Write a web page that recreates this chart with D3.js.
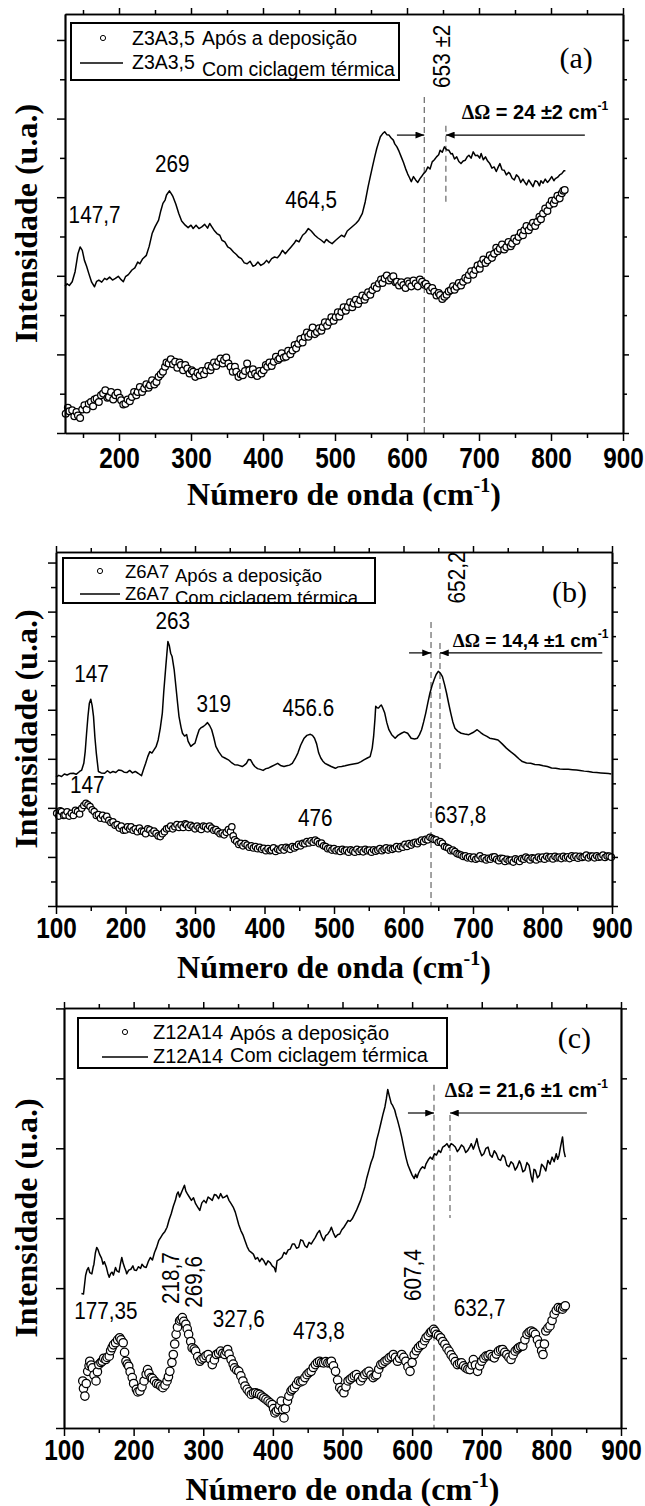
<!DOCTYPE html>
<html>
<head>
<meta charset="utf-8">
<script src="https://cdn.jsdelivr.net/npm/d3@7"></script>
<style>
  body { margin: 0; background: #fff; }
  svg { display: block; }
</style>
</head>
<body>
<script>
// ---- data (wavenumber cm-1, intensity a.u. as % of panel height) ----
const sampleNames = ['Z3A3,5', 'Z6A7', 'Z12A14']
const seriesNames = ['Após a deposição', 'Com ciclagem térmica']
const panelTags = ['(a)', '(b)', '(c)']
const shiftTexts = ['24 ±2', '14,4 ±1', '21,6 ±1']

const aCyc = [[125,35.0],[128,35.6],[131,35.2],[135,36.1],[139,38.5],[143,42.8],[146,44.4],[149,43.6],[152,41.2],[155,39.8],[158,38.1],[162,36.0],[166,34.9],[169,36.2],[172,36.5],[176,36.0],[180,36.9],[183,36.6],[187,37.2],[191,36.5],[195,36.9],[199,37.4],[203,36.6],[206,36.1],[209,37.3],[213,37.8],[218,38.9],[222,39.4],[226,40.8],[229,40.4],[233,41.6],[238,42.4],[242,44.6],[246,47.6],[250,49.2],[255,50.8],[258,53.0],[261,54.8],[264,55.6],[266,56.8],[270,57.8],[273,57.0],[275,56.4],[279,54.6],[283,52.4],[287,50.6],[292,49.6],[296,49.0],[300,49.6],[303,48.8],[307,49.6],[311,48.8],[315,49.2],[319,49.8],[323,48.9],[326,50.0],[329,49.2],[332,48.4],[336,47.6],[340,47.2],[343,46.0],[347,45.6],[351,44.4],[355,44.0],[359,43.2],[363,42.6],[366,42.0],[370,41.6],[374,40.6],[378,40.4],[382,41.0],[386,39.8],[389,40.0],[393,40.8],[397,40.0],[401,40.4],[405,41.2],[408,40.6],[412,41.6],[416,42.0],[420,41.8],[423,42.4],[427,43.6],[431,42.8],[435,43.6],[439,44.4],[443,45.2],[446,46.0],[450,45.6],[455,47.2],[459,47.8],[463,48.8],[467,48.2],[472,47.2],[476,46.6],[481,46.0],[485,45.4],[488,46.2],[492,45.6],[496,45.2],[501,46.0],[505,46.6],[509,47.2],[513,46.8],[517,48.2],[521,48.8],[525,49.4],[529,50.0],[533,50.8],[538,52.4],[542,55.2],[546,58.8],[549,61.2],[552,63.5],[555,65.8],[558,67.9],[561,69.6],[563,70.7],[566,71.4],[569,71.9],[572,71.2],[575,71.1],[578,70.4],[581,69.9],[583,69.0],[586,68.3],[589,67.2],[592,65.9],[595,64.6],[598,63.1],[601,61.8],[603,61.1],[606,60.0],[609,61.2],[612,60.4],[615,59.8],[618,60.7],[621,61.4],[623,61.9],[626,62.4],[629,63.5],[632,63.0],[635,64.7],[638,65.2],[641,65.9],[644,66.4],[646,67.5],[649,67.0],[652,68.3],[655,67.6],[658,67.5],[661,66.6],[663,66.7],[666,65.4],[669,65.9],[672,64.8],[675,64.3],[678,64.9],[681,65.1],[684,66.0],[686,66.3],[689,65.6],[692,67.1],[695,66.2],[698,66.3],[701,65.6],[703,66.7],[706,65.2],[709,65.9],[712,64.9],[715,64.3],[718,63.2],[721,63.5],[724,62.4],[726,63.2],[729,64.3],[732,62.8],[735,62.7],[738,61.6],[741,62.2],[743,61.9],[746,60.8],[749,60.4],[752,61.6],[755,61.1],[758,59.8],[761,60.6],[763,60.0],[766,59.2],[769,60.4],[772,59.6],[775,58.8],[778,60.2],[781,60.0],[784,59.0],[786,60.2],[789,59.6],[792,60.6],[795,59.8],[798,60.4],[801,61.2],[804,60.2],[806,60.7],[809,61.0],[812,61.6],[815,61.9],[818,62.6],[820,62.6]]

const aDep = [[126,4.6],[129,6.0],[131,5.2],[135,5.4],[138,4.0],[141,5.0],[143,4.2],[146,3.6],[149,5.6],[152,6.6],[155,5.6],[158,7.0],[161,7.4],[164,6.4],[166,8.0],[169,8.2],[172,7.4],[175,9.0],[178,9.4],[181,10.2],[184,8.4],[186,8.6],[189,9.8],[192,8.0],[195,9.0],[198,9.6],[201,8.4],[203,7.8],[206,6.8],[209,7.0],[212,8.0],[215,7.6],[218,8.6],[221,9.8],[224,9.0],[226,9.8],[229,11.0],[232,9.8],[235,10.6],[238,11.6],[241,10.8],[243,11.4],[246,12.6],[249,11.6],[252,12.2],[255,13.4],[258,14.0],[261,14.6],[264,15.8],[266,16.8],[269,16.6],[272,17.6],[275,16.4],[278,17.0],[281,15.6],[284,16.8],[286,16.2],[289,15.0],[292,16.2],[295,15.4],[298,14.2],[301,15.0],[303,14.6],[306,13.4],[309,14.4],[312,13.8],[315,14.8],[318,14.0],[321,15.0],[324,16.0],[327,15.0],[329,15.8],[332,16.8],[335,16.0],[338,17.0],[341,17.8],[344,16.6],[346,17.4],[349,18.0],[352,16.6],[355,15.8],[358,14.6],[361,15.8],[363,14.6],[366,13.4],[369,14.0],[372,13.8],[375,14.8],[378,16.6],[381,15.0],[384,14.0],[386,15.2],[389,14.2],[392,13.6],[395,14.8],[398,14.2],[401,15.0],[404,16.2],[406,15.8],[409,16.8],[412,16.0],[415,17.0],[418,18.2],[421,17.4],[423,17.8],[426,19.0],[429,18.0],[432,18.2],[435,19.6],[438,18.8],[441,19.7],[444,21.0],[446,20.2],[449,21.3],[452,22.4],[455,21.6],[458,22.9],[461,24.0],[463,23.0],[466,23.7],[469,25.2],[472,23.6],[475,24.1],[478,25.0],[481,24.4],[483,25.3],[486,26.4],[489,25.6],[492,26.5],[495,27.6],[498,26.8],[501,27.7],[504,28.8],[506,27.8],[509,28.9],[512,30.0],[515,29.2],[518,30.1],[521,31.2],[524,30.0],[526,30.9],[529,31.8],[532,30.8],[535,31.7],[538,32.8],[541,31.8],[543,32.5],[546,33.6],[549,33.0],[552,34.1],[555,35.0],[558,34.6],[561,35.7],[564,36.6],[566,35.8],[569,36.9],[572,37.6],[575,36.4],[578,36.9],[581,37.4],[584,36.0],[586,36.1],[589,35.2],[592,36.0],[595,35.3],[598,34.6],[601,36.2],[603,35.7],[606,35.0],[609,36.4],[612,35.7],[615,35.0],[618,36.6],[621,36.1],[624,35.4],[626,35.6],[629,34.9],[632,34.0],[635,34.6],[638,33.7],[641,32.8],[644,33.4],[646,32.9],[649,32.0],[652,32.5],[655,33.0],[658,33.8],[661,34.1],[664,35.0],[666,34.2],[669,34.9],[672,35.8],[675,35.2],[678,36.1],[681,37.0],[684,36.6],[686,37.7],[689,38.6],[692,37.8],[695,38.9],[698,40.0],[701,39.2],[703,40.4],[706,41.4],[709,40.6],[712,41.2],[715,42.4],[718,41.8],[721,42.8],[724,44.2],[726,43.4],[729,44.0],[732,45.0],[735,43.8],[738,44.4],[741,45.6],[744,44.6],[746,45.2],[749,46.4],[752,45.8],[755,46.8],[758,47.8],[761,47.2],[763,48.4],[766,49.4],[769,48.4],[772,49.2],[775,50.2],[778,49.4],[781,50.4],[784,51.6],[786,51.0],[789,52.4],[792,53.6],[795,53.0],[798,54.4],[801,55.4],[804,54.8],[806,55.6],[809,56.6],[812,56.0],[815,57.2],[817,57.8],[819,58.0]]

const bCyc = [[100,36.4],[104,36.9],[108,36.6],[112,37.3],[116,37.0],[120,37.4],[125,37.5],[129,37.2],[134,38.0],[137,38.4],[140,40.3],[142,43.6],[144,48.8],[146,53.6],[148,57.3],[150,58.4],[152,56.6],[154,53.5],[156,47.6],[158,43.2],[161,38.0],[165,37.6],[170,37.5],[174,38.2],[178,37.6],[182,38.0],[186,37.7],[190,38.4],[194,38.3],[198,37.8],[202,37.7],[206,38.3],[210,37.6],[214,38.0],[218,37.5],[223,36.8],[226,38.6],[229,40.3],[232,42.2],[235,43.6],[238,43.2],[241,44.1],[244,45.0],[247,46.9],[250,50.2],[253,54.5],[255,60.4],[258,67.7],[261,74.7],[263,73.6],[265,71.4],[267,70.5],[270,66.8],[272,63.0],[275,57.2],[277,53.5],[280,50.4],[282,48.8],[285,48.0],[288,48.4],[290,46.6],[294,45.1],[297,45.6],[300,46.0],[303,48.0],[306,49.8],[309,50.4],[312,50.7],[315,51.2],[318,51.8],[321,51.0],[324,49.8],[327,47.6],[330,45.1],[334,43.6],[339,42.2],[343,41.8],[348,41.3],[352,40.6],[357,39.9],[362,39.8],[368,39.4],[371,39.8],[374,40.3],[377,41.4],[380,41.3],[383,40.2],[386,39.4],[390,38.8],[394,38.6],[398,38.3],[402,38.8],[406,39.0],[410,39.4],[414,39.8],[419,40.3],[423,39.7],[428,39.4],[432,39.6],[436,39.8],[440,40.3],[444,41.6],[448,43.2],[452,45.4],[457,47.4],[461,48.2],[466,48.5],[469,48.2],[472,47.4],[475,45.8],[478,43.2],[481,41.8],[484,40.9],[487,40.3],[491,39.9],[496,39.4],[502,38.9],[506,39.3],[511,39.4],[516,39.6],[522,39.9],[528,40.1],[534,40.3],[539,40.8],[543,41.3],[548,41.8],[552,42.2],[555,44.6],[557,47.9],[559,53.0],[560,56.4],[562,56.0],[564,55.9],[566,56.4],[568,56.8],[570,56.0],[573,54.5],[576,51.8],[579,49.8],[583,48.4],[588,47.4],[592,48.2],[597,48.8],[601,49.2],[606,48.8],[611,47.4],[616,47.2],[620,47.4],[623,48.4],[626,49.8],[629,52.0],[632,54.5],[635,57.4],[638,60.1],[641,62.2],[644,63.9],[647,65.4],[650,66.3],[653,65.8],[656,64.8],[659,62.6],[662,60.1],[665,57.2],[668,54.5],[671,52.0],[674,50.2],[678,49.4],[683,48.8],[688,48.6],[694,48.4],[700,49.0],[706,49.8],[711,49.0],[715,48.4],[720,47.9],[724,47.4],[730,47.2],[736,46.9],[742,45.8],[748,44.6],[754,43.6],[760,42.7],[766,41.6],[771,40.8],[777,40.4],[783,40.3],[789,40.0],[795,39.9],[801,39.6],[807,39.4],[813,39.0],[819,38.9],[825,38.7],[831,38.6],[837,38.6],[843,38.5],[849,38.4],[854,38.3],[860,38.1],[866,38.0],[872,37.8],[878,37.7],[884,37.6],[890,37.5],[895,37.4],[899,37.3]]

const bDep = [[101,26.2],[104,25.4],[106,26.9],[108,26.7],[111,25.6],[113,25.7],[116,26.6],[119,25.4],[122,26.2],[125,25.6],[128,27.0],[131,26.7],[134,26.0],[137,27.6],[140,28.4],[143,29.0],[146,28.6],[149,28.1],[152,27.2],[155,26.7],[158,25.6],[161,25.8],[164,24.8],[167,25.6],[170,24.6],[173,25.3],[176,24.2],[179,23.6],[182,23.8],[185,22.8],[188,23.0],[191,22.0],[194,22.6],[197,21.4],[200,21.5],[203,22.4],[206,21.8],[208,22.4],[211,21.4],[214,21.8],[217,21.0],[220,22.0],[223,21.2],[226,21.0],[229,20.4],[232,21.8],[235,21.5],[238,20.6],[241,21.2],[244,20.5],[247,19.8],[250,19.6],[253,20.4],[256,21.0],[259,21.8],[262,22.0],[265,22.6],[268,21.8],[271,22.4],[274,23.0],[277,22.2],[280,22.9],[283,22.2],[286,23.2],[288,22.9],[291,22.2],[294,22.8],[297,22.4],[300,21.8],[303,22.6],[306,22.0],[309,21.6],[312,22.6],[315,22.4],[318,21.8],[321,22.6],[324,22.0],[327,21.4],[330,21.6],[333,21.0],[336,20.4],[339,20.6],[342,20.1],[345,20.8],[348,21.6],[351,21.0],[353,22.4],[355,19.8],[357,18.7],[360,18.2],[363,17.4],[366,17.7],[369,17.0],[372,17.6],[375,17.2],[378,16.6],[381,17.0],[384,16.4],[387,16.8],[390,16.2],[393,16.6],[396,16.0],[399,16.3],[402,15.6],[405,16.2],[408,15.6],[410,15.8],[413,16.4],[416,15.4],[419,16.0],[422,15.8],[425,16.4],[428,15.8],[431,16.6],[434,16.3],[437,16.0],[440,16.8],[443,16.4],[446,16.8],[449,17.4],[452,17.0],[455,17.7],[458,17.6],[461,18.2],[464,17.8],[467,18.4],[470,18.0],[473,18.6],[476,18.2],[479,17.6],[482,17.8],[485,17.0],[488,16.8],[491,16.2],[494,16.3],[497,15.8],[500,16.2],[503,15.6],[506,15.9],[509,15.4],[512,16.0],[515,15.6],[518,15.8],[521,15.2],[524,15.9],[527,15.6],[530,15.2],[533,16.0],[536,15.4],[539,15.8],[542,15.3],[545,16.0],[548,15.6],[551,15.8],[554,15.2],[557,15.9],[560,15.5],[563,15.8],[566,16.2],[569,15.6],[572,16.0],[575,16.4],[578,15.8],[581,16.3],[584,16.0],[587,16.3],[590,16.8],[593,16.2],[596,16.8],[599,16.6],[602,17.4],[605,16.8],[608,17.6],[611,17.2],[614,17.8],[617,18.0],[620,17.6],[623,18.2],[626,18.6],[629,18.2],[632,18.8],[635,18.7],[638,19.4],[641,19.1],[644,18.8],[647,18.7],[650,18.0],[653,18.2],[656,17.7],[659,16.8],[662,16.6],[665,16.3],[668,15.6],[671,15.8],[674,15.4],[677,14.8],[680,14.6],[683,14.4],[686,14.0],[689,14.2],[692,13.6],[695,13.9],[698,13.4],[701,13.8],[704,13.2],[707,13.5],[710,14.2],[713,13.4],[716,13.6],[719,13.0],[722,13.5],[725,13.2],[728,13.8],[731,13.9],[734,13.2],[737,12.8],[740,13.5],[743,13.4],[746,12.6],[749,13.2],[752,12.8],[755,13.0],[758,12.4],[761,13.3],[764,13.0],[767,12.6],[770,13.4],[773,13.2],[776,13.8],[779,13.5],[782,13.0],[785,13.6],[788,13.5],[791,13.0],[794,13.8],[797,13.4],[800,13.8],[803,13.2],[806,14.0],[809,13.6],[812,13.9],[815,13.3],[818,14.0],[821,13.6],[824,13.8],[827,13.4],[830,14.0],[833,13.6],[836,13.9],[839,13.4],[842,14.2],[845,13.8],[848,14.1],[851,13.5],[854,14.0],[857,13.7],[860,13.9],[863,14.4],[866,13.6],[869,14.1],[872,14.1],[875,13.6],[878,14.2],[881,13.8],[884,13.9],[887,14.4],[890,13.7],[893,14.1],[896,14.1],[899,13.8]]

const cCyc = [[125,32.0],[128,31.9],[131,36.3],[133,37.6],[135,38.2],[137,37.0],[140,36.7],[142,38.4],[143,39.0],[145,41.6],[147,43.0],[149,42.4],[151,41.4],[154,40.4],[156,39.0],[158,39.6],[161,38.2],[163,36.8],[165,35.9],[167,36.8],[169,37.1],[171,36.4],[174,38.2],[176,37.4],[179,37.1],[181,39.0],[183,40.6],[185,39.2],[187,38.2],[189,37.4],[190,36.7],[193,37.6],[196,37.8],[199,38.6],[201,37.6],[204,37.5],[207,38.4],[210,38.0],[212,39.0],[215,38.4],[218,38.2],[221,39.6],[224,40.6],[227,40.0],[230,41.8],[233,43.0],[236,44.6],[239,45.4],[242,46.2],[245,46.8],[248,47.8],[251,49.6],[254,51.0],[257,52.8],[260,54.2],[262,55.6],[264,56.2],[266,55.0],[268,55.8],[270,56.6],[273,57.8],[275,56.4],[277,55.8],[280,55.0],[283,54.2],[286,54.8],[289,53.4],[292,52.6],[295,51.8],[298,53.6],[301,54.2],[304,53.6],[307,55.0],[310,54.6],[313,54.2],[316,55.6],[319,55.4],[322,54.6],[325,55.8],[328,54.8],[331,55.0],[334,55.4],[337,54.2],[340,53.4],[343,52.6],[346,51.4],[348,50.2],[351,48.4],[354,47.0],[357,46.0],[360,44.6],[363,43.2],[366,42.2],[369,41.8],[372,41.4],[375,40.2],[378,40.6],[381,39.6],[384,40.4],[387,39.8],[390,38.8],[393,39.8],[396,39.4],[399,38.6],[402,38.2],[404,37.2],[406,39.8],[410,40.2],[413,40.6],[416,41.8],[419,41.4],[422,42.4],[425,42.6],[428,43.8],[431,43.8],[434,42.8],[437,43.0],[440,44.8],[443,44.6],[446,43.4],[449,43.0],[452,44.2],[455,43.8],[458,44.6],[461,45.4],[464,46.4],[467,47.0],[470,45.6],[473,44.6],[476,45.8],[479,46.2],[482,47.0],[484,47.8],[487,46.4],[490,45.4],[493,46.0],[496,46.2],[499,47.2],[502,47.8],[505,48.6],[508,49.4],[511,49.2],[514,49.8],[517,50.8],[520,51.8],[523,53.0],[526,54.2],[529,55.8],[532,57.4],[535,59.6],[538,61.4],[541,63.2],[544,64.5],[547,66.8],[549,68.5],[552,70.4],[555,72.5],[558,74.6],[561,76.5],[563,78.4],[565,80.6],[567,79.2],[570,77.3],[572,76.8],[575,75.7],[577,74.4],[579,73.3],[582,71.4],[585,69.3],[588,66.8],[591,64.5],[594,62.6],[597,61.4],[600,60.2],[603,59.4],[605,60.4],[607,59.6],[609,60.6],[612,61.6],[615,62.2],[618,61.8],[620,62.9],[623,63.8],[626,64.5],[629,64.0],[632,65.3],[635,65.0],[638,66.1],[641,65.6],[644,66.9],[647,67.2],[650,67.7],[653,66.8],[656,67.7],[659,67.4],[662,66.9],[665,65.8],[668,66.5],[671,67.4],[674,66.9],[677,65.6],[680,66.1],[683,67.0],[685,67.7],[688,66.4],[691,67.8],[693,68.9],[695,67.2],[697,66.1],[700,64.8],[703,65.3],[706,66.6],[709,66.9],[712,65.0],[715,64.5],[718,66.0],[721,65.3],[724,64.0],[727,63.7],[730,65.0],[733,64.5],[736,62.6],[739,62.2],[742,63.4],[745,62.9],[748,61.4],[751,62.2],[754,63.6],[756,62.9],[759,61.0],[762,61.4],[765,63.2],[768,62.5],[771,59.8],[773,58.6],[775,61.6],[777,61.4],[780,59.6],[783,60.2],[786,62.8],[789,62.2],[792,61.2],[795,63.7],[798,62.8],[801,64.5],[804,63.4],[807,65.3],[809,64.0],[811,64.9],[813,66.8],[816,69.3],[818,66.0],[820,64.5]]

const cDep = [[127,11.2],[128,9.4],[130,7.6],[132,10.6],[134,13.5],[136,14.8],[137,15.9],[139,15.0],[141,14.3],[143,12.6],[146,11.2],[148,13.4],[150,15.1],[153,15.6],[155,15.9],[157,16.6],[160,16.3],[162,16.8],[165,17.1],[167,18.4],[169,19.1],[171,19.8],[174,20.3],[177,21.0],[180,21.5],[182,21.0],[185,20.3],[187,18.0],[189,15.9],[191,15.2],[193,14.7],[195,13.4],[198,12.0],[200,10.6],[204,9.2],[206,8.6],[209,8.8],[212,9.8],[215,11.2],[218,12.8],[220,13.9],[222,13.0],[225,12.0],[227,11.8],[230,11.2],[233,10.6],[236,10.4],[239,10.0],[242,9.6],[245,10.2],[248,11.2],[250,12.2],[252,13.5],[255,15.6],[257,17.5],[259,20.0],[261,22.3],[263,24.0],[266,25.5],[268,25.8],[270,26.3],[272,25.4],[275,24.7],[277,23.6],[279,22.3],[282,20.6],[284,19.1],[287,18.8],[289,18.3],[292,17.0],[295,15.9],[298,16.4],[301,16.7],[304,17.2],[307,17.5],[310,16.4],[313,15.1],[316,16.2],[319,17.5],[322,17.8],[325,18.3],[328,17.8],[331,17.5],[333,18.2],[335,18.7],[337,17.6],[340,16.3],[343,15.2],[345,14.3],[348,13.8],[351,13.5],[354,12.4],[357,11.2],[360,10.0],[363,9.2],[366,8.6],[369,8.0],[372,8.3],[375,8.4],[378,8.2],[381,8.0],[384,7.6],[387,7.2],[390,6.8],[393,6.4],[396,6.0],[399,5.6],[401,4.6],[403,3.6],[405,4.0],[408,4.4],[410,5.4],[412,6.4],[414,4.4],[416,2.4],[418,4.6],[421,6.4],[423,7.6],[426,8.8],[428,9.2],[431,9.6],[434,10.4],[437,11.2],[440,11.0],[443,11.2],[446,12.0],[449,12.7],[452,13.2],[455,13.5],[458,14.4],[461,15.1],[464,15.6],[467,15.9],[470,15.6],[473,15.5],[476,15.8],[479,15.5],[482,15.6],[484,15.9],[487,14.8],[490,13.5],[493,11.4],[496,9.6],[499,9.0],[502,8.4],[505,9.8],[508,11.2],[511,11.6],[514,12.0],[517,12.4],[520,12.7],[523,12.0],[526,11.2],[529,12.0],[532,12.7],[535,13.2],[538,13.5],[541,12.6],[544,12.0],[547,12.4],[549,12.7],[552,14.0],[555,15.1],[558,15.4],[561,15.9],[564,16.2],[567,16.7],[570,17.0],[573,17.5],[576,16.8],[579,15.9],[582,16.6],[585,17.5],[588,16.8],[591,15.9],[594,14.6],[597,13.5],[600,15.6],[603,17.5],[606,18.4],[609,19.1],[612,19.6],[615,19.9],[618,20.8],[620,21.5],[623,22.0],[626,22.7],[628,23.0],[631,23.5],[633,23.0],[635,22.3],[638,22.0],[641,21.5],[644,20.6],[647,19.9],[650,19.0],[653,18.3],[656,17.4],[659,16.7],[662,15.8],[665,15.1],[668,15.4],[671,15.5],[674,14.8],[677,14.3],[680,14.0],[683,13.9],[686,15.0],[688,16.3],[691,15.0],[694,13.5],[697,14.8],[700,15.9],[703,16.6],[706,17.1],[709,17.2],[712,17.5],[715,17.0],[718,16.7],[721,17.6],[724,18.3],[727,18.6],[730,18.7],[733,18.0],[736,17.5],[739,16.8],[742,16.3],[745,17.4],[748,18.3],[751,18.8],[753,19.1],[756,19.4],[759,19.5],[762,21.0],[765,22.3],[768,22.8],[771,23.1],[774,22.8],[777,22.3],[780,21.0],[783,19.9],[786,18.4],[788,17.5],[790,20.0],[792,23.1],[795,23.8],[798,24.3],[801,25.6],[804,27.1],[807,28.0],[810,28.7],[813,28.5],[816,28.3],[818,28.8],[820,29.1]]

// peak labels: [text, wavenumber, intensity, rotated]
const aPeaks = [['147,7',166,50.2,false],['269',274,62.4,false],['464,5',467,53.6,false]]
const bPeaks = [['147',151,63.3,false],['263',268,78.2,false],['319',327,54.8,false],['456.6',463,53.7,false],['147',145,31.9,false],['476',473,22.6,false],['637,8',682,23.4,false]]
const cPeaks = [['177,35',160,26.0,false],['218,7',265,35.7,true],['269,6',298,34.8,true],['327,6',351,24.0,false],['473,8',466,21.2,false],['607,4',613,36.4,true],['632,7',697,26.7,false]]

// peak shift markers: [wavenumber, top, bottom]
const aDashes = [[624,80.2,0],[654,73.3,54.9]]
const bDashes = [[639.6,80.2,0],[652.5,74.3,37.6]]
const cDashes = [[631.4,81.7,0],[654.4,74.5,50.0]]

// ---- layout ----
const W = 645, H = 1506
const serif = "'Liberation Serif','Times New Roman',serif"
const sans = "'Liberation Sans',Arial,sans-serif"

const panels = [
  { l: 65, r: 623, t: 14, b: 433, xd: [125, 900], yStep: 18.76, yMinor: true, labOff: 35,
    cyc: aCyc, dep: aDep, rad: 3.4, peaks: aPeaks, dashes: aDashes,
    arrowY: 71.1, arrowL: 586, arrowR: 847, shiftX: 676, shiftY: 74.9, shiftFs: 20,
    rotLabel: ['653 ±2', 660, 89.9], tagX: 835, tagY: 87.1,
    legend: { x: 71, y: 23, w: 328, h: 57, sym: 103, line: [80, 123], tx: 132, tx2: 202, rows: [45, 69], rows2: [45, 76], fs: 19.5 } },
  { l: 56, r: 612, t: 552, b: 906, xd: [100, 900], yStep: 13.86, yMinor: true, labOff: 32,
    cyc: bCyc, dep: bDep, rad: 3.2, peaks: bPeaks, dashes: bDashes,
    arrowY: 71.5, arrowL: 608, arrowR: 886, shiftX: 671, shiftY: 73.2, shiftFs: 19,
    rotLabel: ['652,2', 688, 92.8], tagX: 839, tagY: 85.9,
    legend: { x: 63, y: 558, w: 312, h: 45, sym: 100, line: [80, 120], tx: 125, tx2: 175, rows: [578, 600], rows2: [582, 604], fs: 18.5 } },
  { l: 64, r: 621, t: 1008, b: 1428, xd: [100, 900], yStep: 16.65, yMinor: false, labOff: 32,
    cyc: cCyc, dep: cDep, rad: 4.2, peaks: cPeaks, dashes: cDashes,
    arrowY: 75.0, arrowL: 594, arrowR: 851, shiftX: 647, shiftY: 78.8, shiftFs: 20,
    rotLabel: null, tagX: 833, tagY: 90.5,
    legend: { x: 78, y: 1018, w: 369, h: 50, sym: 125, line: [102, 148], tx: 153, tx2: 230, rows: [1039, 1063], rows2: [1040, 1062], fs: 20 } }
]

const svg = d3.select('body').append('svg')
  .attr('width', W)
  .attr('height', H)
  .style('background', '#fff')

const defs = svg.append('defs')
defs.append('marker')
  .attr('id', 'arrow')
  .attr('viewBox', '0 0 10 8')
  .attr('refX', 10)
  .attr('refY', 4)
  .attr('markerWidth', 10)
  .attr('markerHeight', 7)
  .attr('markerUnits', 'userSpaceOnUse')
  .attr('orient', 'auto')
  .append('path')
  .attr('d', 'M0,0 L10,4 L0,8 Z')
  .attr('fill', '#000')

let styleAxis = (sel) => {
  sel.select('.domain').attr('stroke', '#000').attr('stroke-width', 1.7)
  sel.selectAll('.tick line').attr('stroke', '#000').attr('stroke-width', 1.5)
}

panels.forEach((p, i) => {
  const x = d3.scaleLinear().domain(p.xd).range([p.l, p.r])
  const y = d3.scaleLinear().domain([0, 100]).range([p.b, p.t])
  const g = svg.append('g')

  // dashed markers
  g.selectAll('line.dash')
    .data(p.dashes)
    .enter()
    .append('line')
    .attr('x1', d => x(d[0])).attr('x2', d => x(d[0]))
    .attr('y1', d => y(d[1])).attr('y2', d => y(d[2]))
    .attr('stroke', '#666')
    .attr('stroke-width', 1.2)
    .attr('stroke-dasharray', '6,4')

  // thermal cycling spectrum
  let line = d3.line()
    .x(d => x(d[0]))
    .y(d => y(d[1]))
  g.append('path')
    .attr('d', line(p.cyc))
    .attr('fill', 'none')
    .attr('stroke', '#000')
    .attr('stroke-width', 1.5)
    .attr('stroke-linejoin', 'round')

  // as-deposited spectrum (open circles)
  g.selectAll('circle.dep')
    .data(p.dep)
    .enter()
    .append('circle')
    .attr('cx', d => x(d[0]))
    .attr('cy', d => y(d[1]))
    .attr('r', p.rad)
    .attr('fill', '#fff')
    .attr('stroke', '#000')
    .attr('stroke-width', 1.25)

  // shift arrows
  const d0 = p.dashes[0][0], d1 = p.dashes[1][0]
  g.append('line')
    .attr('x1', x(p.arrowL)).attr('x2', x(d0))
    .attr('y1', y(p.arrowY)).attr('y2', y(p.arrowY))
    .attr('stroke', '#000').attr('stroke-width', 1.2)
    .attr('marker-end', 'url(#arrow)')
  g.append('line')
    .attr('x1', x(p.arrowR)).attr('x2', x(d1))
    .attr('y1', y(p.arrowY)).attr('y2', y(p.arrowY))
    .attr('stroke', '#000').attr('stroke-width', 1.2)
    .attr('marker-end', 'url(#arrow)')

  // shift text
  const st = g.append('text')
    .attr('x', x(p.shiftX))
    .attr('y', y(p.shiftY))
    .attr('font-family', sans)
    .attr('font-weight', 'bold')
    .attr('font-size', p.shiftFs)
  st.append('tspan').attr('font-family', serif).text('ΔΩ')
  st.append('tspan').text(' = ' + shiftTexts[i] + ' cm')
  st.append('tspan').attr('dy', -9).attr('font-size', 12).text('-1')

  // peak labels (slightly condensed, as in the source figure)
  g.selectAll('text.peak')
    .data(p.peaks)
    .enter()
    .append('text')
    .attr('font-family', sans)
    .attr('font-size', 23)
    .attr('text-anchor', 'middle')
    .attr('transform', d => d[3]
      ? `translate(${x(d[1])},${y(d[2])}) rotate(-90) scale(0.9,1)`
      : `translate(${x(d[1])},${y(d[2])}) scale(0.9,1)`)
    .text(d => d[0])

  if (p.rotLabel) {
    g.append('text')
      .attr('font-family', sans)
      .attr('font-size', 23)
      .attr('text-anchor', 'middle')
      .attr('transform', `translate(${x(p.rotLabel[1])},${y(p.rotLabel[2])}) rotate(-90) scale(0.9,1)`)
      .text(p.rotLabel[0])
  }

  // panel tag
  g.append('text')
    .attr('x', x(p.tagX))
    .attr('y', y(p.tagY))
    .attr('text-anchor', 'middle')
    .attr('font-family', serif)
    .attr('font-size', 30)
    .text(panelTags[i])

  // axes
  const xStart = p.xd[0] <= 100 ? 100 : 200
  const xMajor = d3.range(xStart, 901, 100)
  const xMinor = d3.range(150, 900, 100).filter(v => v > p.xd[0])
  const yMajor = d3.range(0, 100.01, p.yStep)
  const yMinor = p.yMinor ? yMajor.map(v => v + p.yStep / 2).filter(v => v < 100) : []

  let xAxisGen = d3.axisBottom(x).tickValues(xMajor).tickSize(8).tickSizeOuter(0).tickFormat(d3.format('d'))
  const xa = g.append('g').attr('transform', `translate(0,${p.b})`).call(xAxisGen)
  styleAxis(xa)
  xa.selectAll('text')
    .attr('y', null)
    .attr('dy', null)
    .attr('transform', `translate(0,${p.labOff}) scale(0.84,1)`)
    .attr('font-family', sans)
    .attr('font-weight', 'bold')
    .attr('font-size', 29)
    .attr('fill', '#000')
  g.append('g').attr('transform', `translate(0,${p.b})`)
    .call(d3.axisBottom(x).tickValues(xMinor).tickSize(5).tickSizeOuter(0).tickFormat(''))
    .call(styleAxis)
  g.append('g').attr('transform', `translate(0,${p.t})`)
    .call(d3.axisTop(x).tickValues(xMajor).tickSize(6).tickSizeOuter(0).tickFormat(''))
    .call(styleAxis)
  g.append('g').attr('transform', `translate(0,${p.t})`)
    .call(d3.axisTop(x).tickValues(xMinor).tickSize(4).tickSizeOuter(0).tickFormat(''))
    .call(styleAxis)
  g.append('g').attr('transform', `translate(${p.l},0)`)
    .call(d3.axisLeft(y).tickValues(yMajor).tickSize(8).tickSizeOuter(0).tickFormat(''))
    .call(styleAxis)
  g.append('g').attr('transform', `translate(${p.l},0)`)
    .call(d3.axisLeft(y).tickValues(yMinor).tickSize(5).tickSizeOuter(0).tickFormat(''))
    .call(styleAxis)
  g.append('g').attr('transform', `translate(${p.r},0)`)
    .call(d3.axisRight(y).tickValues(yMajor).tickSize(6).tickSizeOuter(0).tickFormat(''))
    .call(styleAxis)
  g.append('g').attr('transform', `translate(${p.r},0)`)
    .call(d3.axisRight(y).tickValues(yMinor).tickSize(4).tickSizeOuter(0).tickFormat(''))
    .call(styleAxis)

  // axis titles
  const xt = g.append('text')
    .attr('x', (p.l + p.r) / 2)
    .attr('y', p.b + 72)
    .attr('text-anchor', 'middle')
    .attr('font-family', serif)
    .attr('font-weight', 'bold')
    .attr('font-size', 32)
  xt.append('tspan').text('Número de onda (cm')
  xt.append('tspan').attr('dy', -13).attr('font-size', 20).text('-1')
  xt.append('tspan').attr('dy', 13).text(')')

  g.append('text')
    .attr('transform', `translate(37,${(p.t + p.b) / 2}) rotate(-90)`)
    .attr('text-anchor', 'middle')
    .attr('font-family', serif)
    .attr('font-weight', 'bold')
    .attr('font-size', 32)
    .text('Intensidade (u.a.)')

  // legend
  const L = p.legend
  const clipId = 'leg' + i
  defs.append('clipPath').attr('id', clipId)
    .append('rect').attr('x', L.x).attr('y', L.y).attr('width', L.w).attr('height', L.h)
  const lg = g.append('g')
  lg.append('rect')
    .attr('x', L.x).attr('y', L.y).attr('width', L.w).attr('height', L.h)
    .attr('fill', '#fff')
  const lt = lg.append('g').attr('clip-path', `url(#${clipId})`)
  lt.append('circle')
    .attr('cx', L.sym).attr('cy', L.rows[0] - 7)
    .attr('r', 2.6).attr('fill', '#fff').attr('stroke', '#000').attr('stroke-width', 1)
  lt.append('line')
    .attr('x1', L.line[0]).attr('x2', L.line[1])
    .attr('y1', L.rows[1] - 6).attr('y2', L.rows[1] - 6)
    .attr('stroke', '#000').attr('stroke-width', 1.4)
  seriesNames.forEach((s, k) => {
    lt.append('text')
      .attr('x', L.tx).attr('y', L.rows[k])
      .attr('font-family', sans).attr('font-size', L.fs)
      .text(sampleNames[i])
    lt.append('text')
      .attr('x', L.tx2).attr('y', L.rows2[k])
      .attr('font-family', sans).attr('font-size', L.fs)
      .text(s)
  })
  lg.append('rect')
    .attr('x', L.x).attr('y', L.y).attr('width', L.w).attr('height', L.h)
    .attr('fill', 'none')
    .attr('stroke', '#000')
    .attr('stroke-width', 2)
})
</script>
</body>
</html>
